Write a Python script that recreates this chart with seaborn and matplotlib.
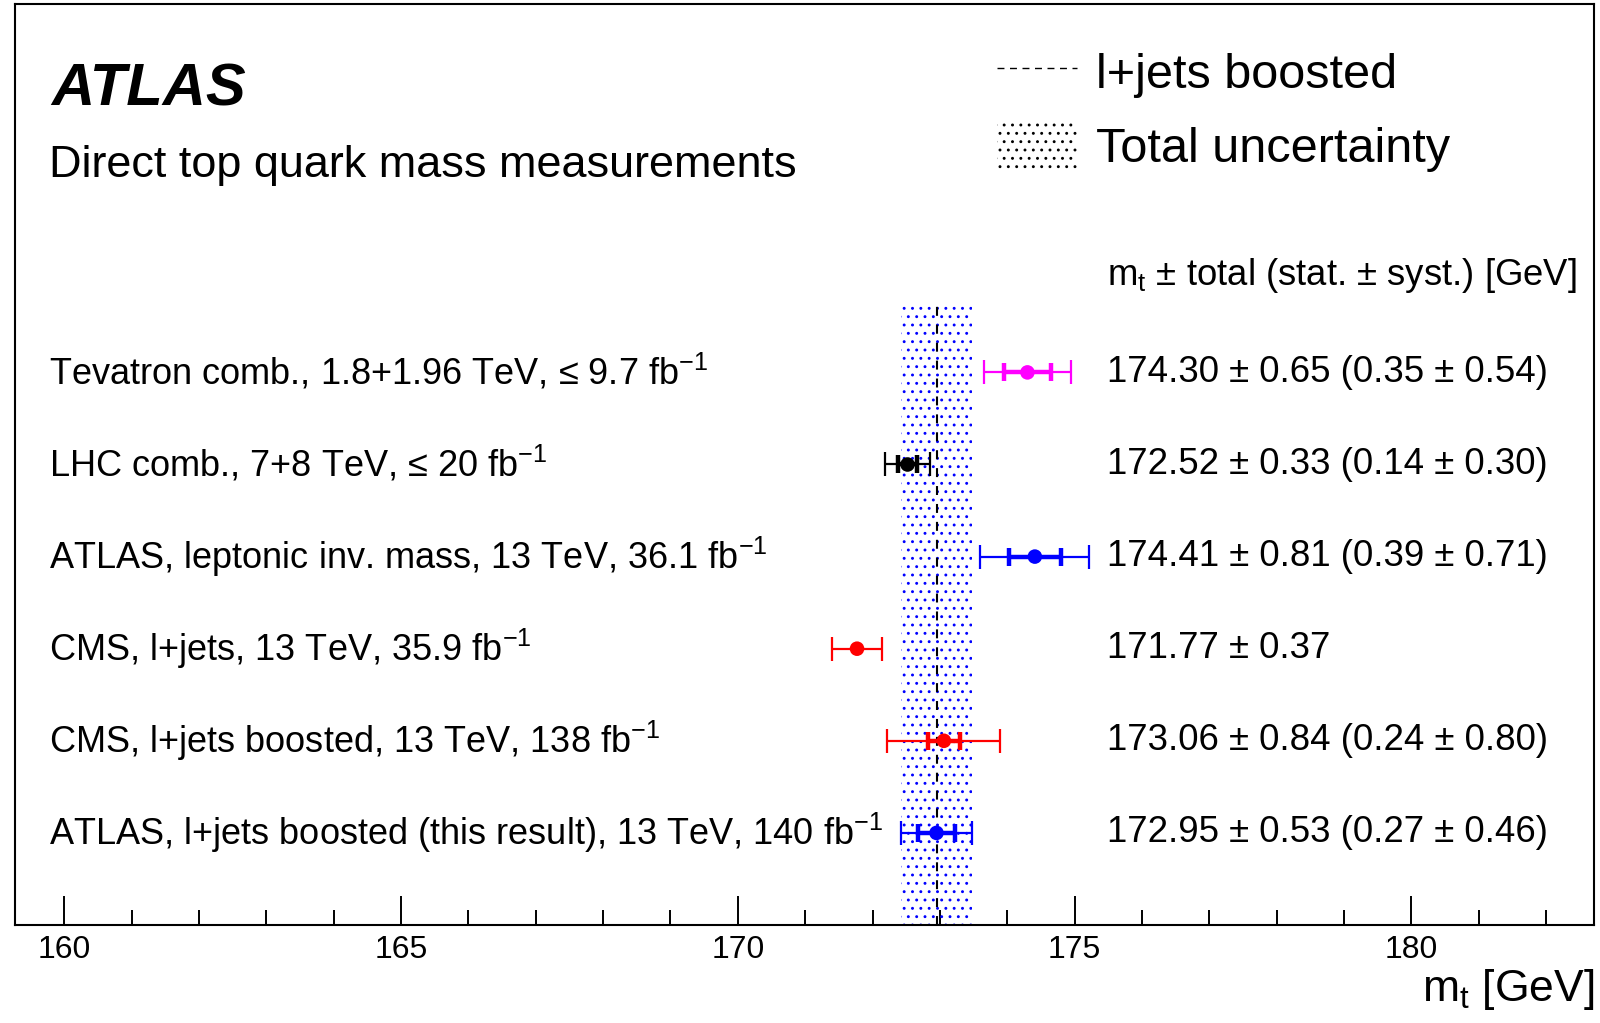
import matplotlib
matplotlib.use("Agg")
import matplotlib.pyplot as plt
from matplotlib.lines import Line2D
from matplotlib.patches import Patch
import seaborn as sns
import pandas as pd

# measurements, top row first
labels = [
    "Tevatron comb., 1.8+1.96 TeV, \u2264 9.7 fb$^{-1}$",
    "LHC comb., 7+8 TeV, \u2264 20 fb$^{-1}$",
    "ATLAS, leptonic inv. mass, 13 TeV, 36.1 fb$^{-1}$",
    "CMS, l+jets, 13 TeV, 35.9 fb$^{-1}$",
    "CMS, l+jets boosted, 13 TeV, 138 fb$^{-1}$",
    "ATLAS, l+jets boosted (this result), 13 TeV, 140 fb$^{-1}$",
]
mt = [174.30, 172.52, 174.41, 171.77, 173.06, 172.95]
tot = [0.65, 0.33, 0.81, 0.37, 0.84, 0.53]
stat = [0.35, 0.14, 0.39, None, 0.24, 0.27]
syst = [0.54, 0.30, 0.71, None, 0.80, 0.46]
colors = ["#ff00ff", "#000000", "#0000ff", "#ff0000", "#ff0000", "#0000ff"]
rows = [6, 5, 4, 3, 2, 1]

ref_mt = 172.95
ref_tot = 0.53

sns.set_theme(style="ticks")
plt.rcParams["font.family"] = ["Liberation Sans", "DejaVu Sans"]
plt.rcParams["mathtext.fontset"] = "custom"
plt.rcParams["mathtext.rm"] = "Liberation Sans"
plt.rcParams["mathtext.default"] = "regular"
plt.rcParams["hatch.linewidth"] = 0.9
plt.rcParams["text.color"] = "black"
plt.rcParams["axes.labelcolor"] = "black"
plt.rcParams["xtick.color"] = "black"

df = pd.DataFrame({"mt": mt, "row": rows, "color": colors})

fig = plt.figure(figsize=(16, 10.23), dpi=100)
ax = fig.add_axes([0.0094, 0.0958, 0.9868, 0.9003])

# total uncertainty band of this result
ax.fill_betweenx([0, 6.75], ref_mt - ref_tot, ref_mt + ref_tot,
                 facecolor="none", edgecolor="#0000ff", hatch="..", linewidth=0, zorder=1)
ax.plot([ref_mt, ref_mt], [0, 6.75], color="black", lw=1.5, dashes=(4.3, 4.3), zorder=2)

for m, t, s, r, c in zip(mt, tot, stat, rows, colors):
    ax.errorbar(m, r, xerr=t, fmt="none", ecolor=c, elinewidth=1.6,
                capsize=8.5, capthick=1.6, zorder=3)
    if s is not None:
        ax.errorbar(m, r, xerr=s, fmt="none", ecolor=c, elinewidth=3.2,
                    capsize=6.5, capthick=3.2, zorder=4)

sns.scatterplot(data=df, x="mt", y="row", hue="color", palette={c: c for c in colors},
                s=110, edgecolor="none", legend=False, ax=ax, zorder=5)

ytr = ax.get_yaxis_transform()
for lab, m, t, s, y, r in zip(labels, mt, tot, stat, syst, rows):
    ax.text(0.0215, r, lab, transform=ytr, fontsize=26, va="center", ha="left")
    if s is None:
        val = f"{m:.2f} \u00b1 {t:.2f}"
    else:
        val = f"{m:.2f} \u00b1 {t:.2f} ({s:.2f} \u00b1 {y:.2f})"
    ax.text(0.6916, r, val, transform=ytr, fontsize=26.4, va="center", ha="left")

ax.text(0.6916, 7.05, "m$_t$ \u00b1 total (stat. \u00b1 syst.) [GeV]", transform=ytr,
        fontsize=26.3, va="center", ha="left")
ax.text(0.0228, 9.07, "ATLAS", transform=ytr, fontsize=43, fontweight="bold",
        fontstyle="italic", va="center", ha="left")
ax.text(0.0215, 8.25, "Direct top quark mass measurements", transform=ytr,
        fontsize=32.4, va="center", ha="left")

handles = [
    Line2D([], [], color="black", lw=1.0, dashes=(5, 4)),
    Patch(facecolor="white", edgecolor="black", hatch="..", linewidth=0),
]
leg = ax.legend(handles, ["l+jets boosted", "Total uncertainty"], loc="upper left",
                bbox_to_anchor=(0.594, 1.0), frameon=False, fontsize=35,
                handlelength=1.65, handleheight=1.1, handletextpad=0.4, labelspacing=0.5)

ax.set_xlim(159.27, 182.71)
ax.set_ylim(0, 10)
ax.set_xticks([160, 165, 170, 175, 180])
ax.set_xticks(range(160, 183), minor=True)
ax.set_yticks([])
ax.tick_params(axis="x", which="major", direction="in", length=21, width=1.4,
               labelsize=23, pad=7, colors="black")
ax.tick_params(axis="x", which="minor", direction="in", length=11, width=1.4)
for sp in ax.spines.values():
    sp.set_visible(True)
    sp.set_linewidth(1.5)
    sp.set_color("black")
ax.set_ylabel("")
ax.set_xlabel("m$_t$ [GeV]", fontsize=32, loc="right", labelpad=2)

fig.savefig("out.png", dpi=100)
